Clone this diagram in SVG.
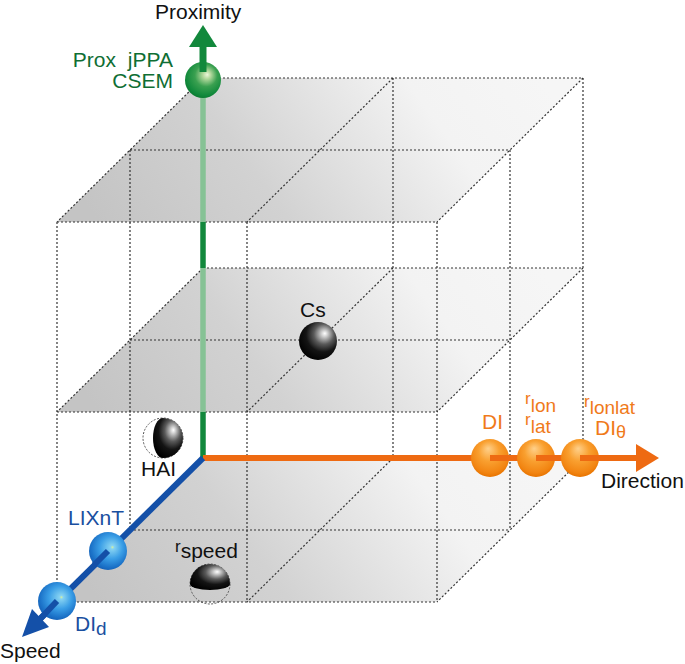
<svg xmlns="http://www.w3.org/2000/svg" width="685" height="664" viewBox="0 0 685 664">
<defs>
  <linearGradient id="plane" x1="0" y1="0.6" x2="1" y2="0.4">
    <stop offset="0" stop-color="#c4c4c4"/>
    <stop offset="0.35" stop-color="#d2d2d2"/>
    <stop offset="0.75" stop-color="#f3f3f3"/>
    <stop offset="1" stop-color="#f6f6f6"/>
  </linearGradient>
  <radialGradient id="gBlack" cx="0.62" cy="0.35" r="0.7" fx="0.68" fy="0.3">
    <stop offset="0" stop-color="#ffffff"/>
    <stop offset="0.1" stop-color="#d6d6d6"/>
    <stop offset="0.38" stop-color="#5a5a5a"/>
    <stop offset="0.65" stop-color="#141414"/>
    <stop offset="1" stop-color="#000000"/>
  </radialGradient>
  <radialGradient id="gOrange" cx="0.5" cy="0.4" r="0.6" fx="0.45" fy="0.25">
    <stop offset="0" stop-color="#ffd08a"/>
    <stop offset="0.45" stop-color="#f9a030"/>
    <stop offset="0.85" stop-color="#f28512"/>
    <stop offset="1" stop-color="#e87400"/>
  </radialGradient>
  <radialGradient id="gBlue" cx="0.55" cy="0.42" r="0.6" fx="0.62" fy="0.4">
    <stop offset="0" stop-color="#d6f0a0"/>
    <stop offset="0.08" stop-color="#86d2f2"/>
    <stop offset="0.5" stop-color="#3a9ee6"/>
    <stop offset="0.85" stop-color="#1b72c8"/>
    <stop offset="1" stop-color="#1560b6"/>
  </radialGradient>
  <radialGradient id="gGreen" cx="0.55" cy="0.4" r="0.62" fx="0.62" fy="0.35">
    <stop offset="0" stop-color="#eef7dc"/>
    <stop offset="0.18" stop-color="#b2d89c"/>
    <stop offset="0.5" stop-color="#3aa050"/>
    <stop offset="0.85" stop-color="#128a3c"/>
    <stop offset="1" stop-color="#0a7a30"/>
  </radialGradient>
</defs>
<style>
  .pl { fill: url(#plane); }
  .dot { stroke: #333333; stroke-width: 1.2; stroke-dasharray: 2 2; fill: none; }
  .t { font-family: "Liberation Sans", Arial, sans-serif; font-size: 21px; }
  .blk { fill: #111111; }
  .grn { fill: #0f6e34; }
  .org { fill: #f07a1a; }
  .blu { fill: #1a4fa0; }
  .dash { fill: none; stroke: #555; stroke-width: 1; stroke-dasharray: 2 1.5; }
</style>

<g id="planes">
  <polygon class="pl" points="203,458 583,458 437,602 57,602"/>
  <polygon class="pl" points="203,268 583,268 437,412 57,412"/>
  <polygon class="pl" points="203,78 583,78 437,222 57,222"/>
</g>

<g id="grid">
  <path class="dot" d="M203,78 H583 M130,150 H510 M57,222 H437 M203,78 L57,222 M393,78 L247,222 M583,78 L437,222"/>
  <path class="dot" d="M203,268 H583 M130,340 H510 M57,412 H437 M203,268 L57,412 M393,268 L247,412 M583,268 L437,412"/>
  <path class="dot" d="M130,530 H510 M57,602 H437 M393,458 L247,602 M583,458 L437,602"/>
  <path class="dot" d="M393,78 V458 M583,78 V458 M130,150 V530 M510,150 V530 M57,222 V602 M247,222 V602 M437,222 V602"/>
</g>

<g id="connectors">
  <line x1="203" y1="458" x2="203" y2="412" stroke="#12883c" stroke-width="5.5"/>
  <line x1="203" y1="412" x2="203" y2="268" stroke="#86c295" stroke-width="5.5"/>
  <line x1="203" y1="268" x2="203" y2="222" stroke="#12883c" stroke-width="5.5"/>
  <line x1="203" y1="222" x2="203" y2="90" stroke="#86c295" stroke-width="5.5"/>
  <line x1="203" y1="458" x2="638" y2="458" stroke="#ee6a12" stroke-width="6"/>
  <polygon points="636,444 659,458 636,472" fill="#ee6a12"/>
  <line x1="203" y1="458" x2="40" y2="619" stroke="#1450a8" stroke-width="6"/>
  <polygon points="49,627 22,637 32,609" fill="#1450a8"/>
</g>

<g id="node-prox">
  <circle cx="203" cy="80" r="18" fill="url(#gGreen)"/>
  <line x1="203" y1="72" x2="203" y2="45" stroke="#12883c" stroke-width="7"/>
  <polygon points="189,47 203,25 217,47" fill="#12883c"/>
  <text class="t grn" x="173" y="67" text-anchor="end" word-spacing="6">Prox jPPA</text>
  <text class="t grn" x="173" y="88" text-anchor="end">CSEM</text>
</g>

<g id="node-proximity-label">
  <text class="t blk" x="155" y="19">Proximity</text>
</g>

<g id="node-cs">
  <circle cx="318" cy="341" r="19" fill="url(#gBlack)"/>
  <text class="t blk" x="300" y="317">Cs</text>
</g>

<g id="node-hai">
  <circle class="dash" cx="163" cy="438" r="20"/>
  <path d="M163,418 A20,20 0 0 1 163,458 A10,20 0 0 1 163,418 Z" fill="url(#gBlack)"/>
  <text class="t blk" x="141" y="476" font-size="20">HAI</text>
</g>

<g id="node-rspeed">
  <circle class="dash" cx="210" cy="584" r="20"/>
  <path d="M190,584 A20,20 0 0 1 230,584 A20,6 0 0 1 190,584 Z" fill="url(#gBlack)"/>
  <text class="t blk" x="175" y="552"><tspan font-size="17">r</tspan><tspan dy="6">speed</tspan></text>
</g>

<g id="node-dl">
  <circle cx="490" cy="458" r="19" fill="url(#gOrange)"/>
  <line x1="490" y1="458" x2="509" y2="458" stroke="#ee6a12" stroke-width="6"/>
  <text class="t org" x="482" y="429">DI</text>
</g>

<g id="node-rlon">
  <circle cx="536" cy="458" r="19" fill="url(#gOrange)"/>
  <line x1="536" y1="458" x2="555" y2="458" stroke="#ee6a12" stroke-width="6"/>
  <text class="t org" x="525" y="404"><tspan font-size="17">r</tspan><tspan font-size="19" dy="8">lon</tspan></text>
  <text class="t org" x="525" y="425"><tspan font-size="17">r</tspan><tspan font-size="19" dy="8">lat</tspan></text>
</g>

<g id="node-rlonlat">
  <circle cx="580" cy="458" r="19" fill="url(#gOrange)"/>
  <line x1="580" y1="458" x2="637" y2="458" stroke="#ee6a12" stroke-width="6"/>
  <text class="t org" x="584" y="407"><tspan font-size="17">r</tspan><tspan font-size="19" dy="7">lonlat</tspan></text>
  <text class="t org" x="595" y="435">DI<tspan font-size="18" dy="3">θ</tspan></text>
</g>

<g id="node-direction-label">
  <text class="t blk" x="601" y="488">Direction</text>
</g>

<g id="node-lixnt">
  <circle cx="108" cy="551" r="19" fill="url(#gBlue)"/>
  <line x1="108" y1="551" x2="94" y2="565" stroke="#1450a8" stroke-width="6"/>
  <text class="t blu" x="68" y="525">LIXnT</text>
</g>

<g id="node-dld">
  <circle cx="57" cy="601" r="19" fill="url(#gBlue)"/>
  <line x1="57" y1="601" x2="40" y2="619" stroke="#1450a8" stroke-width="6"/>
  <text class="t blu" x="75" y="631">DI<tspan font-size="19" dy="4">d</tspan></text>
</g>

<g id="node-speed-label">
  <text class="t blk" x="0" y="658">Speed</text>
</g>
</svg>
